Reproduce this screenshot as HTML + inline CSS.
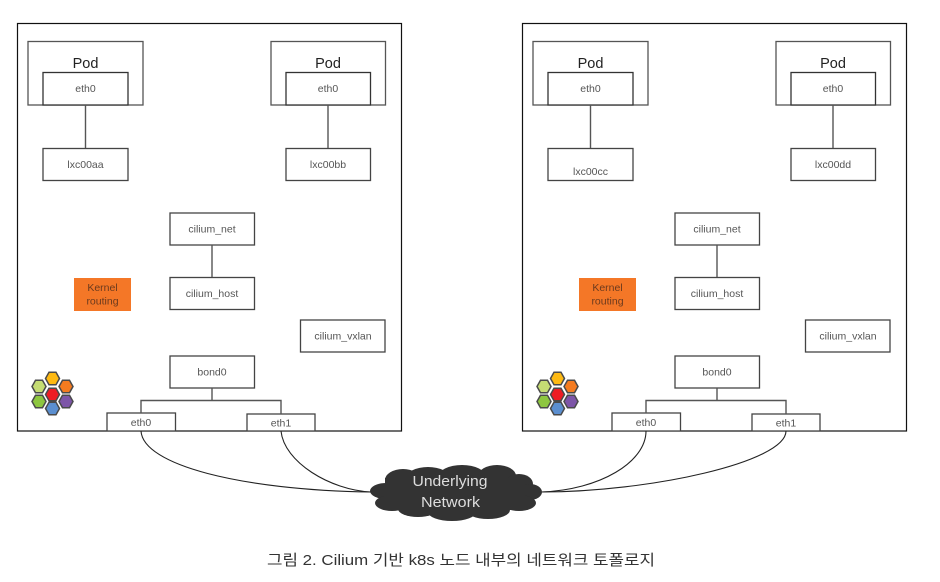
<!DOCTYPE html>
<html><head><meta charset="utf-8">
<style>
html,body{margin:0;padding:0;background:#fff;width:940px;height:582px;overflow:hidden}
svg{display:block}
.t{font-family:"Liberation Sans",sans-serif;font-size:10.5px;fill:#555;text-anchor:middle}
</style></head>
<body>
<svg width="940" height="582" viewBox="0 0 940 582" xmlns="http://www.w3.org/2000/svg">
<defs>
<g id="hex"><polygon points="-7,0 -3.5,-6.2 3.5,-6.2 7,0 3.5,6.2 -3.5,6.2" stroke="#4a4a4a" stroke-width="1.5"/></g>
<g id="node">
  <rect x="17.5" y="23.5" width="384" height="407.5" fill="#fff" stroke="#111" stroke-width="1.2"/>
  <g fill="#fff" stroke="#444" stroke-width="1.3">
    <rect x="28" y="41.5" width="115" height="63.5" stroke="#555"/>
    <rect x="43" y="72.5" width="85" height="32.5" stroke="#333"/>
    <rect x="43" y="148.5" width="85" height="32"/>
    <rect x="271" y="41.5" width="114.5" height="63.5" stroke="#555"/>
    <rect x="286" y="72.5" width="84.5" height="32.5" stroke="#333"/>
    <rect x="286" y="148.5" width="84.5" height="32"/>
    <rect x="170" y="213" width="84.5" height="32"/>
    <rect x="170" y="277.5" width="84.5" height="32"/>
    <rect x="300.5" y="320" width="84.5" height="32"/>
    <rect x="170" y="356" width="84.5" height="32"/>
    <rect x="107" y="413" width="68.5" height="18"/>
    <rect x="247" y="414" width="68" height="17"/>
  </g>
  <rect x="74" y="278" width="57" height="33" fill="#f47727"/>
  <g fill="none" stroke="#555" stroke-width="1.4">
    <path d="M85.5 105V148M328 105V148M212 245V277M212 388V400.5M141 413V400.5H281V414"/>
  </g>
  <text class="t" x="85.5" y="92">eth0</text>
  <text class="t" x="328" y="92">eth0</text>
  <text class="t" x="212" y="232.5">cilium_net</text>
  <text class="t" x="212" y="297">cilium_host</text>
  <text class="t" x="343" y="339.5">cilium_vxlan</text>
  <text class="t" x="212" y="375.5">bond0</text>
  <text class="t" x="141" y="426">eth0</text>
  <text class="t" x="281" y="426.5">eth1</text>
  <text class="t" x="102.5" y="291" style="fill:#6b3a1e">Kernel</text>
  <text class="t" x="102.5" y="304.5" style="fill:#6b3a1e">routing</text>
  <g font-family="'Liberation Sans',sans-serif" font-size="14.5" fill="#222" text-anchor="middle">
    <text x="85.5" y="68">Pod</text>
    <text x="328" y="68">Pod</text>
  </g>
  <use href="#hex" x="52.5" y="378.5" fill="#fdb913"/>
  <use href="#hex" x="66" y="386.5" fill="#f47b20"/>
  <use href="#hex" x="39" y="386.5" fill="#c5dc73"/>
  <use href="#hex" x="52.5" y="394.5" fill="#ed1c24"/>
  <use href="#hex" x="39" y="401.5" fill="#8dc63f"/>
  <use href="#hex" x="66" y="401.5" fill="#7d55a8"/>
  <use href="#hex" x="52.5" y="408.5" fill="#5b8fd0"/>
</g>
</defs>

<use href="#node"/>
<text class="t" x="85.5" y="168">lxc00aa</text>
<text class="t" x="328" y="168">lxc00bb</text>

<use href="#node" x="505"/>
<text class="t" x="590.5" y="175">lxc00cc</text>
<text class="t" x="833" y="168">lxc00dd</text>

<g fill="none" stroke="#222" stroke-width="1.1">
  <path d="M141 431C143 465 240 490 371 492"/>
  <path d="M281 431C284 462 330 490 371 492"/>
  <path d="M646 431C646 462 600 490 541 492"/>
  <path d="M786 431C786 462 650 492 541 492"/>
</g>

<g fill="#333">
  <ellipse cx="386" cy="491" rx="16" ry="8"/>
  <ellipse cx="392" cy="503" rx="17" ry="8"/>
  <ellipse cx="403" cy="480" rx="18" ry="11"/>
  <ellipse cx="428" cy="478" rx="22" ry="11"/>
  <ellipse cx="462" cy="477" rx="24" ry="12"/>
  <ellipse cx="497" cy="476" rx="19" ry="11"/>
  <ellipse cx="519" cy="484" rx="14" ry="10"/>
  <ellipse cx="530" cy="492" rx="12" ry="8"/>
  <ellipse cx="519" cy="503" rx="17" ry="8"/>
  <ellipse cx="488" cy="510" rx="22" ry="9"/>
  <ellipse cx="452" cy="512" rx="24" ry="9"/>
  <ellipse cx="418" cy="509" rx="20" ry="8"/>
  <rect x="385" y="478" width="140" height="32"/>
</g>
<g font-family="'Liberation Sans',sans-serif" font-size="14.5" fill="#ddd" text-anchor="middle">
  <text x="450" y="486" textLength="75" lengthAdjust="spacingAndGlyphs">Underlying</text>
  <text x="450.5" y="507" textLength="59" lengthAdjust="spacingAndGlyphs">Network</text>
</g>

<text x="461" y="565" font-family="'Liberation Sans','Noto Sans CJK KR',sans-serif" font-size="15" fill="#333" text-anchor="middle" textLength="388" lengthAdjust="spacingAndGlyphs">그림 2. Cilium 기반 k8s 노드 내부의 네트워크 토폴로지</text>
</svg>
</body></html>
